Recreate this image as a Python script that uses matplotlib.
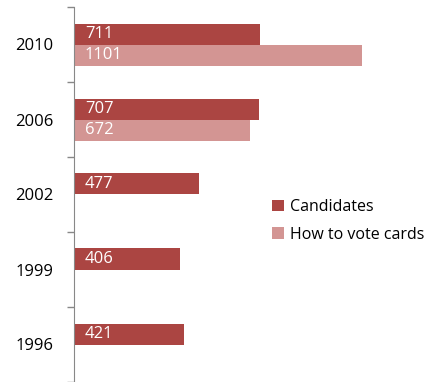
import matplotlib.pyplot as plt
import numpy as np

years = ["2010", "2006", "2002", "1999", "1996"]
candidates = [711, 707, 477, 406, 421]
cards = [1101, 672, None, None, None]

dark = "#AB4542"
light = "#D39593"

plt.rcParams['font.family'] = ['Open Sans', 'DejaVu Sans']

fig = plt.figure(figsize=(4.30, 3.82), dpi=100)
ax = fig.add_axes([74 / 430, 0.0, 346 / 430, 1 - 7 / 382])

pos = np.arange(len(years))
h = 0.28

ax.barh(pos - h / 2, candidates, height=h, color=dark, label="Candidates")
card_vals = [v if v is not None else 0 for v in cards]
ax.barh(pos + h / 2, card_vals, height=h, color=light, label="How to vote cards")

# value labels sit just inside the left end of each bar
for i, v in enumerate(candidates):
    ax.text(42, pos[i] - h / 2, str(v), color="white",
            fontsize=12, va="center", ha="left")
for i, v in enumerate(cards):
    if v is not None:
        ax.text(42, pos[i] + h / 2, str(v), color="white",
                fontsize=12, va="center", ha="left")

ax.set_ylim(len(years) - 0.5, -0.5)
ax.set_xlim(0, 1321)

ax.set_yticks(pos)
ax.set_yticklabels(years, fontsize=12)
ax.set_yticks(np.arange(-0.5, len(years)), minor=True)
ax.tick_params(axis="y", which="major", length=0, pad=15)
ax.tick_params(axis="y", which="minor", length=5, color="#888888", width=1)
ax.set_xticks([])

for s in ["top", "right", "bottom"]:
    ax.spines[s].set_visible(False)
ax.spines["left"].set_color("#888888")

ax.legend(loc="center left", bbox_to_anchor=(258 / 430, 1 - 221 / 382),
          bbox_transform=fig.transFigure, frameon=False, fontsize=11.5,
          handlelength=0.7, handleheight=0.7, handletextpad=0.4,
          labelspacing=0.7)

fig.savefig("out.png", dpi=100)
